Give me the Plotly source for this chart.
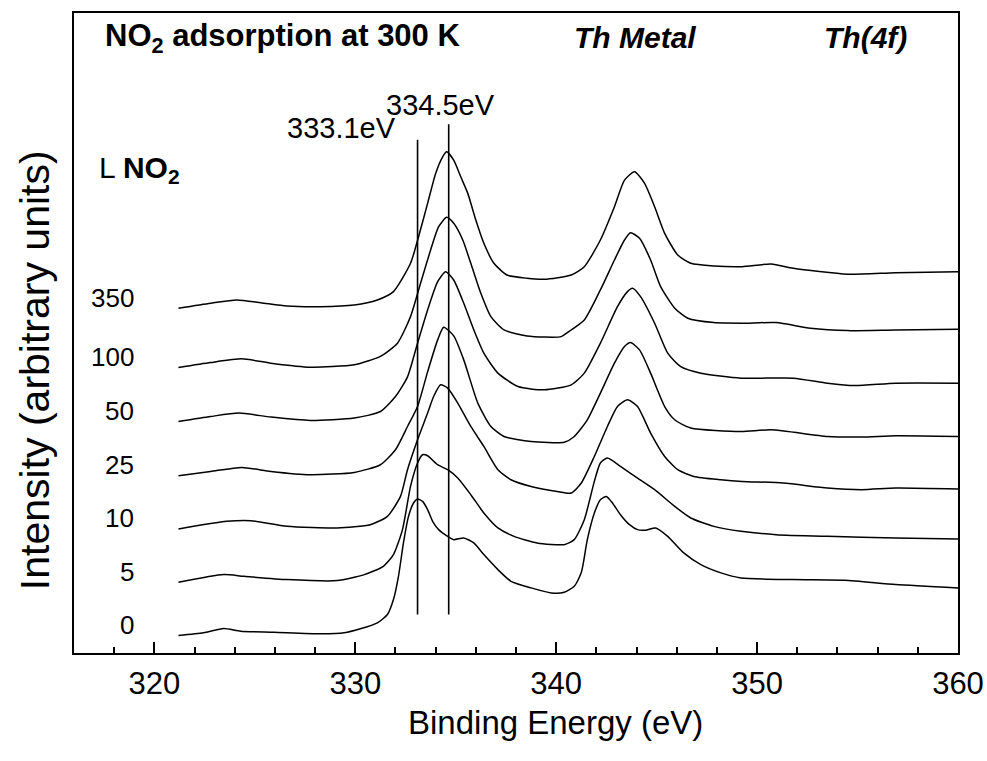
import plotly.graph_objects as go

# ---- data (binding energy in eV, intensity in arbitrary units, offsets included) ----
exposures = ["0", "5", "10", "25", "50", "100", "350"]

e_0 = [321.2, 322.45, 323.45, 324.3, 325.95, 328.3, 329.45, 330.25, 331.1, 331.6, 331.9, 332.15, 332.4, 332.65,
       332.9, 333.1, 333.35, 333.6, 333.85, 334.15, 334.6, 334.9, 335.4, 335.9, 336.4, 337.1, 337.75, 338.75,
       339.75, 340.4, 340.9, 341.25, 341.55, 341.9, 342.2, 342.5, 342.8, 343.2, 343.65, 344.05, 344.45, 344.95,
       345.55, 346.35, 347.2, 348.2, 349.2, 351.8, 354.35, 356.9, 360.0]
i_0 = [1.75, 2.02, 2.45, 2.18, 2.08, 1.92, 2.02, 2.42, 3.02, 3.85, 5.35, 7.68, 11.05, 13.68,
       15.02, 15.42, 15.18, 14.35, 13.18, 12.35, 11.68, 11.35, 11.52, 11.02, 9.85, 8.35, 7.18, 6.52,
       6.02, 6.08, 6.68, 8.05, 11.35, 14.02, 15.35, 15.68, 15.02, 13.85, 12.85, 12.35, 12.3, 12.52,
       11.68, 10.02, 8.85, 8.02, 7.52, 7.35, 7.28, 6.85, 6.52]

e_5 = [321.2, 323.45, 324.45, 326.6, 329.1, 330.45, 331.4, 331.9, 332.35, 332.75, 333.1, 333.35, 333.6, 334.1,
       334.6, 335.1, 335.75, 336.4, 337.1, 337.9, 339.05, 340.4, 340.9, 341.4, 341.9, 342.2, 342.55, 343.2,
       344.05, 344.9, 345.9, 346.7, 347.85, 349.2, 350.95, 353.5, 356.9, 360.0]
i_5 = [7.08, 7.85, 7.68, 7.35, 7.25, 7.85, 8.68, 9.85, 12.35, 16.68, 19.02, 19.85, 19.75, 18.85,
       18.35, 17.52, 15.85, 14.02, 12.52, 11.68, 11.02, 10.85, 11.35, 13.35, 17.18, 19.02, 19.52, 18.68,
       17.52, 16.35, 14.68, 13.52, 12.68, 12.18, 11.85, 11.68, 11.52, 11.42]

e_10 = [321.2, 323.6, 324.8, 326.6, 329.1, 330.75, 331.6, 332.25, 332.6, 333.1, 333.6, 333.9, 334.25, 334.6,
        335.1, 335.75, 336.4, 337.1, 337.75, 338.75, 340.05, 340.75, 341.25, 341.9, 342.55, 343.05, 343.55,
        344.05, 344.7, 345.4, 346.05, 346.85, 348.2, 349.25, 351.3, 353.5, 355.2, 356.9, 360.0]
i_10 = [12.42, 13.18, 13.25, 12.68, 12.52, 12.85, 13.68, 15.68, 18.35, 21.35, 24.02, 25.68, 26.85, 26.52,
        25.02, 22.68, 20.68, 18.35, 17.35, 16.68, 16.18, 16.02, 17.02, 19.68, 22.68, 24.68, 25.35,
        24.68, 22.02, 19.68, 18.35, 17.68, 17.35, 17.18, 17.02, 16.52, 16.35, 16.52, 16.42]

e_25 = [321.2, 322.8, 324.35, 325.8, 327.75, 329.95, 331.25, 332.0, 332.6, 333.1, 333.6, 334.1, 334.4, 334.9,
        335.4, 336.1, 336.75, 337.4, 338.75, 340.4, 340.9, 341.55, 342.2, 342.9, 343.4, 343.7, 344.15, 344.7,
        345.4, 345.9, 346.7, 349.2, 350.7, 353.5, 355.2, 356.9, 360.0]
i_25 = [17.75, 18.18, 18.58, 18.18, 17.85, 18.08, 18.85, 20.35, 22.68, 24.68, 28.15, 31.35, 32.62, 31.75,
        29.35, 25.02, 22.68, 21.68, 21.18, 21.1, 21.68, 23.35, 26.02, 29.02, 30.68, 31.08, 30.35, 28.02,
        24.68, 23.35, 22.52, 22.18, 22.35, 21.68, 21.62, 21.75, 21.68]

e_50 = [321.2, 322.8, 324.2, 325.8, 327.75, 329.95, 331.25, 332.0, 332.6, 333.1, 333.6, 334.1, 334.5, 334.9,
        335.4, 335.9, 336.4, 337.1, 338.1, 339.4, 340.75, 341.4, 342.2, 343.05, 343.55, 343.8, 344.2, 344.9,
        345.55, 346.2, 347.2, 349.2, 351.8, 353.5, 354.85, 356.9, 360.0]
i_50 = [23.18, 23.68, 24.02, 23.62, 23.28, 23.52, 24.18, 25.68, 27.65, 31.02, 34.35, 37.18, 38.18, 37.35,
        35.02, 32.35, 30.02, 28.02, 26.68, 26.35, 26.85, 28.02, 31.02, 34.68, 36.18, 36.52, 35.68, 33.02,
        30.02, 28.68, 28.02, 27.52, 27.52, 27.02, 26.78, 27.02, 27.02]

e_100 = [321.2, 322.8, 324.35, 325.8, 327.75, 329.95, 331.25, 332.1, 332.75, 333.25, 333.75, 334.15, 334.55,
         334.9, 335.35, 335.75, 336.25, 336.75, 337.4, 338.55, 340.25, 340.55, 341.4, 342.2, 342.9, 343.4,
         343.7, 344.15, 344.7, 345.2, 345.9, 346.55, 347.85, 349.25, 350.95, 352.65, 354.5, 356.9, 360.0]
i_100 = [28.58, 29.08, 29.45, 29.02, 28.62, 28.85, 29.7, 31.02, 33.68, 37.02, 40.35, 42.68, 43.62,
         43.02, 41.35, 39.02, 36.02, 33.68, 32.35, 31.75, 31.68, 32.08, 33.35, 36.35, 39.35, 41.35,
         42.08, 41.52, 39.35, 36.68, 34.52, 33.52, 33.08, 33.02, 33.08, 32.52, 32.28, 32.35, 32.42]

e_350 = [321.2, 322.8, 324.1, 325.3, 326.6, 328.25, 329.95, 331.1, 331.9, 332.75, 333.15, 333.6, 334.0, 334.35,
         334.55, 334.9, 335.25, 335.6, 336.0, 336.4, 336.9, 337.55, 338.55, 339.4, 340.75, 341.4, 342.2, 342.9,
         343.4, 343.9, 344.4, 344.9, 345.4, 346.05, 346.7, 347.85, 349.25, 350.7, 351.8, 354.5, 356.9, 360.0]
i_350 = [34.52, 35.02, 35.35, 35.08, 34.75, 34.68, 34.85, 35.35, 36.18, 39.02, 41.68, 45.02, 48.02, 49.68,
         50.18, 49.35, 47.68, 46.02, 43.35, 41.02, 39.02, 37.85, 37.52, 37.42, 37.85, 38.68, 41.35, 44.68,
         47.35, 48.18, 47.02, 44.68, 42.02, 39.85, 39.02, 38.75, 38.68, 38.95, 38.52, 37.92, 38.08, 38.18]

energies = [e_0, e_5, e_10, e_25, e_50, e_100, e_350]
intensities = [i_0, i_5, i_10, i_25, i_50, i_100, i_350]

marker_lines = [333.1, 334.65]          # eV, vertical reference lines
marker_labels = ["333.1eV", "334.5eV"]
x_ticks = [320, 330, 340, 350, 360]

FONT = "Liberation Sans, Arial, sans-serif"

fig = go.Figure()
for name, e, i in zip(exposures, energies, intensities):
    fig.add_trace(go.Scatter(x=e, y=i, mode="lines", name=name,
                             line=dict(color="black", width=1.5, shape="spline", smoothing=0.6),
                             showlegend=False, hoverinfo="skip"))

# vertical reference lines
fig.add_shape(type="line", xref="x", yref="y", x0=marker_lines[0], x1=marker_lines[0], y0=3.85, y1=51.4,
              line=dict(color="black", width=1.6))
fig.add_shape(type="line", xref="x", yref="y", x0=marker_lines[1], x1=marker_lines[1], y0=3.85, y1=52.95,
              line=dict(color="black", width=1.6))

ann = []
ann.append(dict(x=332.15, y=52.6, xref="x", yref="y", text=marker_labels[0], showarrow=False,
                xanchor="right", yanchor="middle", font=dict(family=FONT, size=29, color="black")))
ann.append(dict(x=334.25, y=54.85, xref="x", yref="y", text=marker_labels[1], showarrow=False,
                xanchor="center", yanchor="middle", font=dict(family=FONT, size=29, color="black")))

# exposure labels, just above the start of each curve
for name, i in zip(exposures, intensities):
    ann.append(dict(x=319.1, y=i[0] + 1.05, xref="x", yref="y", text=name, showarrow=False,
                    xanchor="right", yanchor="middle", font=dict(family=FONT, size=26, color="black")))

ann.append(dict(x=317.15, y=48.4, xref="x", yref="y", text="L <b>NO<sub>2</sub></b>", showarrow=False,
                xanchor="left", yanchor="middle", font=dict(family=FONT, size=30, color="black")))
ann.append(dict(x=317.45, y=61.6, xref="x", yref="y", text="<b>NO<sub>2</sub> adsorption at 300 K</b>",
                showarrow=False, xanchor="left", yanchor="middle",
                font=dict(family=FONT, size=31, color="black")))
ann.append(dict(x=343.9, y=61.6, xref="x", yref="y", text="<b><i>Th Metal</i></b>", showarrow=False,
                xanchor="center", yanchor="middle", font=dict(family=FONT, size=30, color="black")))
ann.append(dict(x=355.4, y=61.6, xref="x", yref="y", text="<b><i>Th(4f)</i></b>", showarrow=False,
                xanchor="center", yanchor="middle", font=dict(family=FONT, size=30, color="black")))

# axis titles
ann.append(dict(x=(555 - 73.7) / 884.0, y=-(723 - 653.5) / 640.8, xref="paper", yref="paper",
                text="Binding Energy (eV)", showarrow=False, xanchor="center", yanchor="middle",
                font=dict(family=FONT, size=33, color="black")))
ann.append(dict(x=-(73.7 - 35) / 884.0, y=(653.5 - 370) / 640.8, xref="paper", yref="paper",
                text="Intensity (arbitrary units)", showarrow=False, textangle=-90,
                xanchor="center", yanchor="middle", font=dict(family=FONT, size=41, color="black")))

fig.update_layout(
    width=987, height=761,
    margin=dict(l=73.7, r=29.3, t=12.7, b=107.5, pad=0, autoexpand=False),
    paper_bgcolor="white", plot_bgcolor="white",
    annotations=ann,
    xaxis=dict(range=[316, 360], tickvals=x_ticks, ticktext=[str(t) for t in x_ticks],
               ticks="inside", ticklen=11, tickwidth=2, tickcolor="black",
               minor=dict(dtick=2, ticks="inside", ticklen=6, tickwidth=1.5, tickcolor="black"),
               showline=True, linecolor="black", linewidth=2, mirror=True,
               showgrid=False, zeroline=False, ticklabelstandoff=2, automargin=False,
               tickfont=dict(family=FONT, size=31, color="black")),
    yaxis=dict(range=[0, 64.08], showticklabels=False, ticks="",
               showline=True, linecolor="black", linewidth=2, mirror=True,
               showgrid=False, zeroline=False, automargin=False),
)

fig.write_html("out.html")
